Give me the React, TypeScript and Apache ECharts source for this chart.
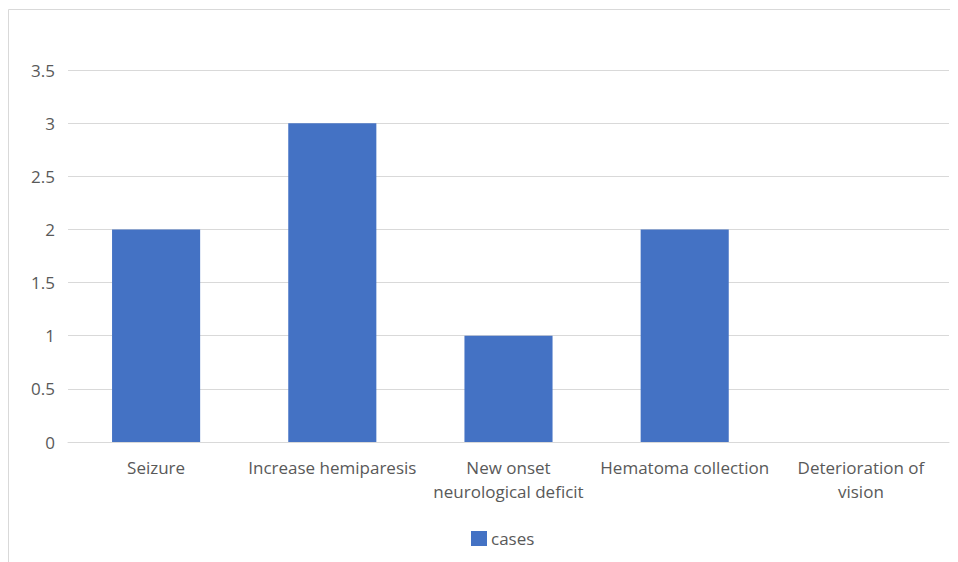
import React, { useEffect, useRef } from "react";
import * as echarts from "echarts";

const categories = [
  "Seizure",
  "Increase hemiparesis",
  "New onset\nneurological deficit",
  "Hematoma collection",
  "Deterioration of\nvision",
];
const cases = [2, 3, 1, 2, 0];
const seriesName = "cases";

const FONT = "'Open Sans', 'Noto Sans', sans-serif";
const TEXT = "#595959";
const GRID = "#d9d9d9";
const BAR = "#4472C4";

export default function App() {
  const ref = useRef<HTMLDivElement>(null);

  useEffect(() => {
    if (!ref.current) return;
    const chart = echarts.init(ref.current, null, { renderer: "svg" });
    chart.setOption({
      animation: false,
      textStyle: { fontFamily: FONT },
      graphic: [
        {
          type: "rect",
          shape: { x: 0.5, y: 1.5, width: 980, height: 620 },
          style: { fill: "none", stroke: GRID, lineWidth: 1 },
          silent: true,
        },
      ],
      grid: { left: 60, right: 9, top: 62, bottom: 120, containLabel: false },
      legend: {
        left: 458,
        top: 517,
        itemWidth: 16,
        itemHeight: 15,
        itemGap: 10,
        icon: "rect",
        textStyle: { color: TEXT, fontSize: 17, fontFamily: FONT, padding: [0, 0, 0, -1] },
        data: [seriesName],
      },
      xAxis: {
        type: "category",
        data: categories,
        axisLine: { show: true, lineStyle: { color: GRID, width: 1 } },
        axisTick: { show: false },
        axisLabel: {
          color: TEXT,
          fontSize: 17,
          fontFamily: FONT,
          margin: 13,
          lineHeight: 24,
          interval: 0,
        },
      },
      yAxis: {
        type: "value",
        min: 0,
        max: 3.5,
        interval: 0.5,
        axisLine: { show: false },
        axisTick: { show: false },
        splitLine: { lineStyle: { color: GRID, width: 1 } },
        axisLabel: { color: TEXT, fontSize: 17, fontFamily: FONT, margin: 13 },
      },
      series: [
        {
          name: seriesName,
          type: "bar",
          data: cases,
          barWidth: "50%",
          itemStyle: { color: BAR },
        },
      ],
    });
    return () => chart.dispose();
  }, []);

  return <div ref={ref} style={{ width: 950, height: 554 }} />;
}
